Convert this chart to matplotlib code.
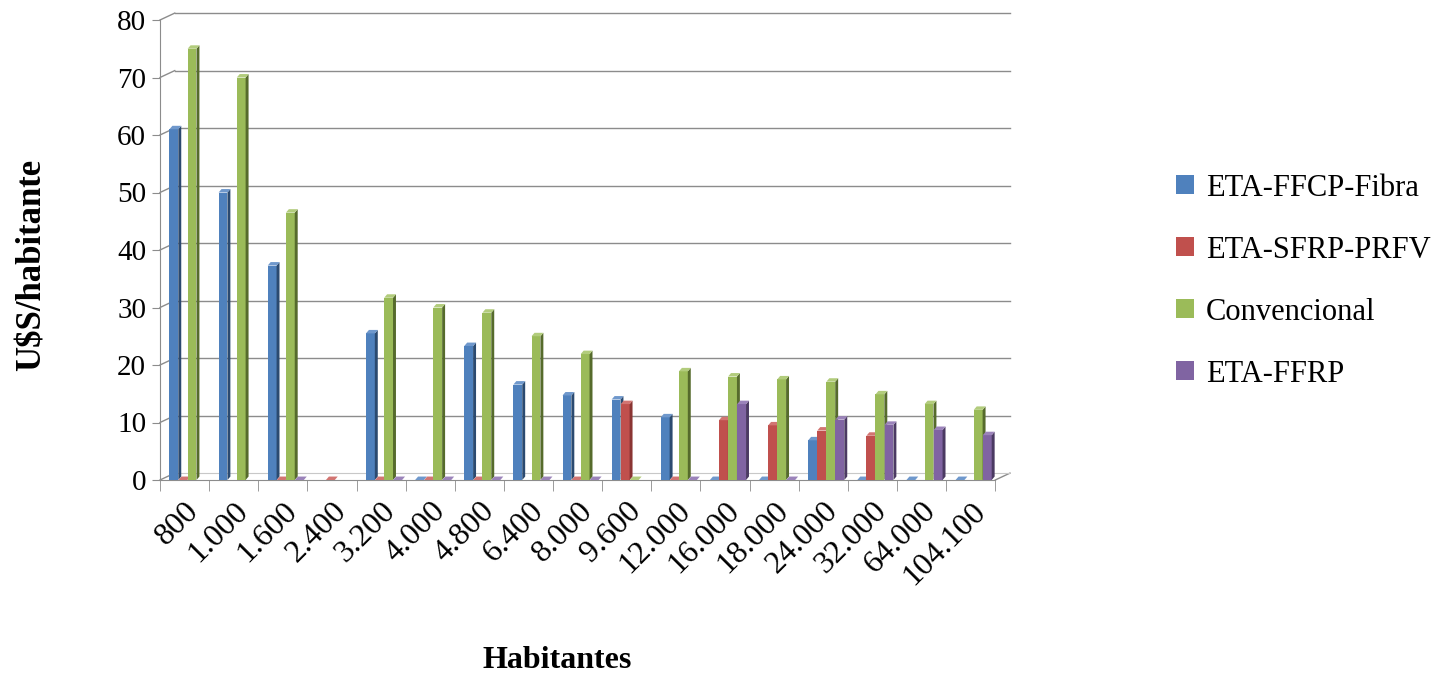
import matplotlib
matplotlib.use("Agg")
import matplotlib.pyplot as plt
from matplotlib.patches import Polygon
import numpy as np

categorias = ["800", "1.000", "1.600", "2.400", "3.200", "4.000", "4.800", "6.400",
              "8.000", "9.600", "12.000", "16.000", "18.000", "24.000", "32.000",
              "64.000", "104.100"]

series = ["ETA-FFCP-Fibra", "ETA-SFRP-PRFV", "Convencional", "ETA-FFRP"]

nan = np.nan
fibra = [61, 50, 37.3, nan, 25.5, 0, 23.3, 16.6, 14.7, 14, 10.9, 0, 0, 6.9, 0, 0, 0]
prfv = [0, nan, 0, 0, 0, 0, 0, nan, 0, 13.2, 0, 10.4, 9.5, 8.6, 7.7, nan, nan]
convencional = [75, 70, 46.5, nan, 31.7, 30, 29.1, 25, 21.9, 0, 18.9, 18, 17.5, 17.1, 14.9, 13.2, 12.2]
ffrp = [nan, nan, 0, nan, 0, 0, 0, 0, 0, nan, 0, 13.2, 0, 10.5, 9.6, 8.7, 7.8]

valores = [fibra, prfv, convencional, ffrp]
colores = ["#4F81BD", "#C0504D", "#9BBB59", "#8064A2"]
laterales = ["#2B4A70", "#8A3533", "#566B2C", "#4B3A62"]
superiores = ["#6F98CC", "#D27572", "#B2CC7C", "#9B83BA"]

plt.rcParams['font.family'] = ['Liberation Serif', 'DejaVu Serif']

fig = plt.figure(figsize=(14.52, 6.74), dpi=100)
ax = fig.add_axes([160 / 1452, 1 - 480 / 674, 850 / 1452, 460 / 674])

n = len(categorias)
x = np.arange(n)
ancho = 0.18
paso = 0.185
dx = 0.06   # profundidad lateral (unidades x)
dy = 0.6    # profundidad superior (unidades y)
fx = 0.3    # desplazamiento de la pared del fondo
fy = 1.2

# pared del fondo: lineas de grilla desplazadas
for v in range(0, 81, 10):
    if v > 0:
        ax.plot([-0.5 + fx, n - 0.5 + fx], [v + fy, v + fy], color="#8C8C8C", lw=1.0,
                zorder=0, clip_on=False)
    ax.plot([-0.5, -0.5 + fx], [v, v + fy], color="#8C8C8C", lw=1.0, zorder=0, clip_on=False)
ax.plot([n - 0.5, n - 0.5 + fx], [0, fy], color="#8C8C8C", lw=1.0, zorder=0, clip_on=False)
ax.plot([-0.5 + fx, n - 0.5 + fx], [fy, fy], color="#C8C8C8", lw=0.8, zorder=0)

for i, (vals, c, cl, cs) in enumerate(zip(valores, colores, laterales, superiores)):
    pos = x + (i - 1.5) * paso + 0.06
    h = np.array(vals, dtype=float)
    ok = ~np.isnan(h)
    ax.bar(pos[ok], h[ok], width=ancho, color=c, zorder=3 + i, linewidth=0,
           label=series[i])
    for p, v in zip(pos[ok], h[ok]):
        xr = p + ancho / 2
        xl = p - ancho / 2
        ax.add_patch(Polygon([(xr, 0), (xr + dx, dy), (xr + dx, v + dy), (xr, v)],
                             closed=True, color=cl, lw=0, zorder=3 + i))
        ax.add_patch(Polygon([(xl, v), (xl + dx, v + dy), (xr + dx, v + dy), (xr, v)],
                             closed=True, color=cs, lw=0, zorder=3 + i))

ax.set_xlim(-0.5, n - 0.5 + fx)
ax.set_ylim(0, 80)
ax.set_yticks(range(0, 81, 10))
ax.set_xticks(np.arange(n + 1) - 0.5, minor=True)
ax.set_xticks(x)
ax.set_xticklabels(categorias, rotation=45, ha="right", rotation_mode="anchor")
ax.tick_params(axis="x", which="major", length=0, labelsize=23, pad=12)
ax.tick_params(axis="x", which="minor", length=8, color="#8C8C8C")
ax.tick_params(axis="y", labelsize=21, length=6, color="#8C8C8C", pad=4)

for s in ["top", "right"]:
    ax.spines[s].set_visible(False)
ax.spines["left"].set_color("#8C8C8C")
ax.spines["bottom"].set_color("#8C8C8C")
ax.spines["bottom"].set_bounds(-0.5, n - 0.5)

fig.text(32 / 1452, 1 - 265 / 674, "U$S/habitante", fontsize=25, fontweight="bold",
         ha="center", va="center", rotation=90)
fig.text(557 / 1452, 1 - 660 / 674, "Habitantes", fontsize=23, fontweight="bold",
         ha="center", va="center")

handles, labels = ax.get_legend_handles_labels()
fig.legend(handles, labels, loc="center left", bbox_to_anchor=(1148 / 1452, 1 - 281 / 674),
           frameon=False, fontsize=22, handlelength=0.6, handleheight=0.6,
           labelspacing=1.08, handletextpad=0.4)

fig.savefig("out.png", dpi=100)
